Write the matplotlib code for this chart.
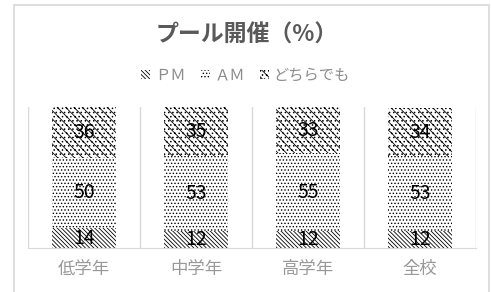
import numpy as np
import matplotlib.pyplot as plt
from matplotlib.patches import Rectangle

plt.rcParams['font.family'] = ['Noto Sans CJK JP', 'DejaVu Sans']
plt.rcParams['hatch.linewidth'] = 0.6

# データ（%）
categories = ['低学年', '中学年', '高学年', '全校']
series_names = ['ＰＭ', 'ＡＭ', 'どちらでも']
pm = [14, 12, 12, 12]
am = [50, 53, 55, 53]
either = [36, 35, 33, 34]

hatches = ['\\\\\\\\\\\\\\\\', '.....', '\\\\\\\\....']

fig = plt.figure(figsize=(4.91, 2.92), dpi=100)
ax = fig.add_axes([0.057, 0.151, 0.912, 0.483])

# 外枠
fig.patches.append(Rectangle((14 / 491, -0.1), 475 / 491, 1.1 - 5 / 292,
                             transform=fig.transFigure, fill=False,
                             edgecolor='#d9d9d9', linewidth=1.2))

x = np.arange(len(categories))
bottom = np.zeros(len(categories))
for name, vals, h in zip(series_names, [pm, am, either], hatches):
    bars = ax.bar(x, vals, width=0.57, bottom=bottom, color='white',
                  edgecolor='black', linewidth=0, hatch=h, label=name)
    for b, v in zip(bars, vals):
        ax.text(b.get_x() + b.get_width() / 2, b.get_y() + b.get_height() / 2,
                str(v), ha='center', va='center', fontsize=14, color='black')
    bottom += np.array(vals)

ax.set_xlim(-0.5, len(categories) - 0.5)
ax.set_ylim(0, 100)
ax.set_yticks([])
ax.set_xticks(x)
ax.set_xticklabels(categories, fontsize=12.5, color='#999999')
ax.set_xticks(np.arange(len(categories) + 1) - 0.5, minor=True)
ax.tick_params(axis='x', which='both', length=0, pad=9)
ax.grid(True, which='minor', axis='x', color='#d9d9d9', linewidth=1)
ax.set_axisbelow(True)
for s in ['top', 'left', 'right']:
    ax.spines[s].set_visible(False)
ax.spines['bottom'].set_color('#d9d9d9')

fig.text(0.503, 0.88, 'プール開催（%）', ha='center', va='center',
         fontsize=16.5, fontweight='bold', color='#595959')
fig.legend(loc='center', bbox_to_anchor=(0.5, 0.742), ncol=3, frameon=False,
           fontsize=11, handlelength=0.6, handleheight=0.6, handletextpad=0.3,
           columnspacing=1.0, labelcolor='#8c8c8c')

fig.savefig('out.png', dpi=100)
